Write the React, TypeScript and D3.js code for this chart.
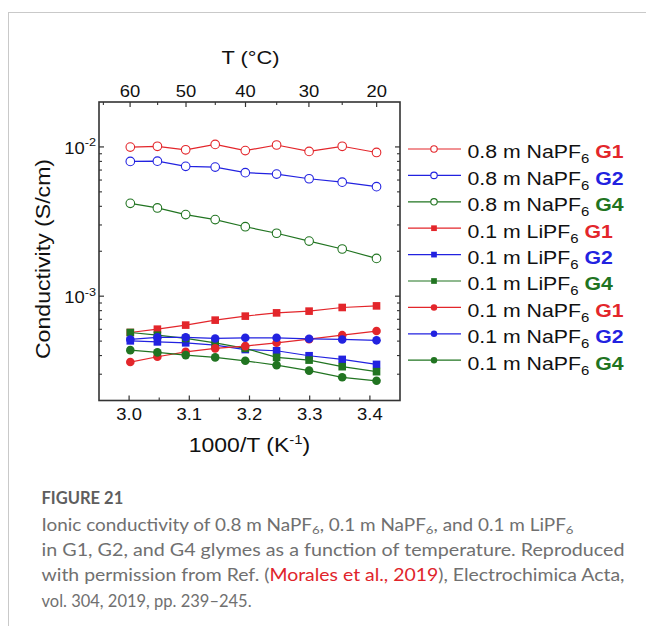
import React from "react";
import * as d3 from "d3";

// 1000/T (K^-1) for T = 60, 55, ..., 20 °C
const invT = [3.002, 3.047, 3.094, 3.143, 3.193, 3.245, 3.299, 3.354, 3.411];

const na08G1 = [0.00998, 0.0101, 0.00957, 0.0104, 0.00945, 0.0103, 0.00933, 0.0101, 0.00918];
const na08G2 = [0.008, 0.00803, 0.00741, 0.00733, 0.00672, 0.00658, 0.00612, 0.00581, 0.00542];
const na08G4 = [0.00419, 0.0039, 0.00352, 0.00326, 0.00292, 0.00264, 0.00234, 0.00207, 0.00179];
const li01G1 = [5.71e-4, 6.01e-4, 6.4e-4, 6.91e-4, 7.35e-4, 7.73e-4, 7.94e-4, 8.4e-4, 8.61e-4];
const li01G2 = [5.02e-4, 4.94e-4, 4.87e-4, 4.7e-4, 4.39e-4, 4.31e-4, 3.99e-4, 3.77e-4, 3.49e-4];
const li01G4 = [5.71e-4, 5.48e-4, 5.21e-4, 4.87e-4, 4.47e-4, 3.89e-4, 3.73e-4, 3.37e-4, 3.12e-4];
const na01G1 = [3.62e-4, 3.93e-4, 4.24e-4, 4.47e-4, 4.63e-4, 4.87e-4, 5.15e-4, 5.48e-4, 5.84e-4];
const na01G2 = [5.13e-4, 5.3e-4, 5.3e-4, 5.21e-4, 5.26e-4, 5.26e-4, 5.18e-4, 5.13e-4, 5.06e-4];
const na01G4 = [4.35e-4, 4.2e-4, 4.03e-4, 3.89e-4, 3.69e-4, 3.45e-4, 3.17e-4, 2.86e-4, 2.71e-4];

const xTicks = [3.0, 3.1, 3.2, 3.3, 3.4];
const xMinor = [3.05, 3.15, 3.25, 3.35];
const tTicks = [60, 50, 40, 30, 20];
const tMinor = [65, 55, 45, 35, 25];
const yMajor = [1e-3, 1e-2];
const yMajorExp = ["-3", "-2"];

const RED = "#e3262b";
const BLUE = "#2222e0";
const GREEN = "#217421";

type Series = { salt: string; glyme: string; color: string; marker: "open" | "square" | "dot"; values: number[] };
const series: Series[] = [
  { salt: "0.8 m NaPF", glyme: "G1", color: RED, marker: "open", values: na08G1 },
  { salt: "0.8 m NaPF", glyme: "G2", color: BLUE, marker: "open", values: na08G2 },
  { salt: "0.8 m NaPF", glyme: "G4", color: GREEN, marker: "open", values: na08G4 },
  { salt: "0.1 m LiPF", glyme: "G1", color: RED, marker: "square", values: li01G1 },
  { salt: "0.1 m LiPF", glyme: "G2", color: BLUE, marker: "square", values: li01G2 },
  { salt: "0.1 m LiPF", glyme: "G4", color: GREEN, marker: "square", values: li01G4 },
  { salt: "0.1 m NaPF", glyme: "G1", color: RED, marker: "dot", values: na01G1 },
  { salt: "0.1 m NaPF", glyme: "G2", color: BLUE, marker: "dot", values: na01G2 },
  { salt: "0.1 m NaPF", glyme: "G4", color: GREEN, marker: "dot", values: na01G4 },
];

const FONT = "'Liberation Sans', Arial, sans-serif";
const SX = 1.15;

function ST(props: any) {
  const { x, y, sx = SX, anchor = "start", size = 16, fill = "#111", weight = "normal", rotate = 0, children } = props;
  const tr = `translate(${x},${y})` + (rotate ? ` rotate(${rotate})` : "") + ` scale(${sx},1)`;
  return (
    <text transform={tr} textAnchor={anchor} fontSize={size} fill={fill} fontWeight={weight} fontFamily={FONT}>
      {children}
    </text>
  );
}

function Marker({ kind, cx, cy, color, s = 1 }: any) {
  if (kind === "open") return <circle cx={cx} cy={cy} r={4.3 * s} fill="#fff" stroke={color} strokeWidth={1.1} />;
  if (kind === "square") {
    const h = 3.8 * s;
    return <rect x={cx - h} y={cy - h} width={2 * h} height={2 * h} fill={color} />;
  }
  return <circle cx={cx} cy={cy} r={4.3 * s} fill={color} />;
}

export default function App() {
  const x = d3.scaleLinear().domain([2.95, 3.45]).range([99, 400]);
  const y = d3.scaleLog().domain([2e-4, 2e-2]).range([400.5, 102]);
  const tx = (t: number) => x(1000 / (t + 273.15));
  const [x0, x1] = x.range();
  const [yb, yt] = y.range();

  const yMinor: number[] = [];
  for (const dec of [1e-4, 1e-3]) for (let k = 2; k <= 9; k++) {
    const v = k * dec;
    if (v > 2e-4 && v < 2e-2) yMinor.push(v);
  }

  const line = d3.line<number>().x((_, i) => x(invT[i])).y((v) => y(v));

  const legX0 = 408, legX1 = 461, legY0 = 149, legDy = 26.4;

  return (
    <svg width={646} height={626} style={{ position: "absolute", left: 0, top: 0, background: "#fff" }}>
      <line x1={8} x2={646} y1={12.5} y2={12.5} stroke="#c9c9c9" strokeWidth={1} />
      <line x1={8.5} x2={8.5} y1={12} y2={626} stroke="#c9c9c9" strokeWidth={1} />

      {/* series */}
      {series.map((s, si) => (
        <g key={si}>
          <path d={line(s.values) || ""} fill="none" stroke={s.color} strokeWidth={1.2} />
          {s.values.map((v, i) => (
            <Marker key={i} kind={s.marker} cx={x(invT[i])} cy={y(v)} color={s.color} />
          ))}
        </g>
      ))}

      {/* frame */}
      <rect x={x0} y={yt} width={x1 - x0} height={yb - yt} fill="none" stroke="#333" strokeWidth={1.6} />

      {/* bottom ticks */}
      {xTicks.map((t) => (
        <g key={"xb" + t}>
          <line x1={x(t)} x2={x(t)} y1={yb} y2={yb - 5} stroke="#333" strokeWidth={1.2} />
          <ST x={x(t)} y={420} anchor="middle" size={16}>{t.toFixed(1)}</ST>
        </g>
      ))}
      {xMinor.map((t) => (
        <line key={"xm" + t} x1={x(t)} x2={x(t)} y1={yb} y2={yb - 3} stroke="#333" strokeWidth={1.1} />
      ))}

      {/* top ticks (temperature) */}
      {tTicks.map((t) => (
        <g key={"tt" + t}>
          <line x1={tx(t)} x2={tx(t)} y1={yt} y2={yt + 5} stroke="#333" strokeWidth={1.2} />
          <ST x={tx(t)} y={96.5} anchor="middle" size={16}>{t}</ST>
        </g>
      ))}
      {tMinor.map((t) => (
        <line key={"tm" + t} x1={tx(t)} x2={tx(t)} y1={yt} y2={yt + 3} stroke="#333" strokeWidth={1.1} />
      ))}

      {/* y ticks */}
      {yMajor.map((v, i) => (
        <g key={"ym" + v}>
          <line x1={x0} x2={x0 + 5} y1={y(v)} y2={y(v)} stroke="#333" strokeWidth={1.2} />
          <line x1={x1} x2={x1 - 5} y1={y(v)} y2={y(v)} stroke="#333" strokeWidth={1.2} />
          <ST x={96} y={y(v) + 7} anchor="end" size={16}>
            10<tspan fontSize={11} dy={-7.5}>{yMajorExp[i]}</tspan>
          </ST>
        </g>
      ))}
      {yMinor.map((v) => (
        <g key={"yn" + v}>
          <line x1={x0} x2={x0 + 3} y1={y(v)} y2={y(v)} stroke="#333" strokeWidth={1.1} />
          <line x1={x1} x2={x1 - 3} y1={y(v)} y2={y(v)} stroke="#333" strokeWidth={1.1} />
        </g>
      ))}

      {/* axis titles */}
      <ST x={(x0 + x1) / 2 + 1} y={64} anchor="middle" size={19}>T (°C)</ST>
      <ST x={(x0 + x1) / 2} y={451.5} anchor="middle" size={20}>
        1000/T (K<tspan fontSize={13} dy={-8}>-1</tspan><tspan dy={8}>)</tspan>
      </ST>
      <ST x={50} y={259} anchor="middle" size={21} rotate={-90} sx={1.1}>Conductivity (S/cm)</ST>

      {/* legend */}
      {series.map((s, i) => {
        const ly = legY0 + i * legDy;
        return (
          <g key={"lg" + i}>
            <line x1={legX0} x2={legX1} y1={ly} y2={ly} stroke={s.color} strokeWidth={1.2} />
            <Marker kind={s.marker} cx={(legX0 + legX1) / 2 - 0.5} cy={ly} color={s.color} s={0.75} />
            <ST x={467.5} y={ly + 9.3} size={18.5}>
              {s.salt}
              <tspan fontSize={13} dy={5}>6</tspan>
              <tspan dy={-5}> </tspan>
              <tspan fontWeight="bold" fill={s.color}>{s.glyme}</tspan>
            </ST>
          </g>
        );
      })}

      {/* caption */}
      <g fontFamily="Lato, 'Open Sans', sans-serif">
        <text x={41.5} y={504} fontSize={16.5} fontWeight="bold" fill="#5e5e5e">FIGURE 21</text>
        <text x={41.5} y={531} fontSize={16.5} fill="#707070" textLength={532} lengthAdjust="spacingAndGlyphs">
          Ionic conductivity of 0.8 m NaPF<tspan fontSize={11.5} dy={3}>6</tspan>
          <tspan dy={-3}>, 0.1 m NaPF</tspan><tspan fontSize={11.5} dy={3}>6</tspan>
          <tspan dy={-3}>, and 0.1 m LiPF</tspan><tspan fontSize={11.5} dy={3}>6</tspan>
        </text>
        <text x={41.5} y={556.2} fontSize={16.5} fill="#707070" textLength={583} lengthAdjust="spacingAndGlyphs">
          in G1, G2, and G4 glymes as a function of temperature. Reproduced
        </text>
        <text x={41.5} y={581.4} fontSize={16.5} fill="#707070" textLength={583} lengthAdjust="spacingAndGlyphs">
          with permission from Ref. (<tspan fill="#e0242b">Morales et al., 2019</tspan>), Electrochimica Acta,
        </text>
        <text x={41.5} y={606.6} fontSize={16.5} fill="#707070">vol. 304, 2019, pp. 239–245.</text>
      </g>
    </svg>
  );
}
